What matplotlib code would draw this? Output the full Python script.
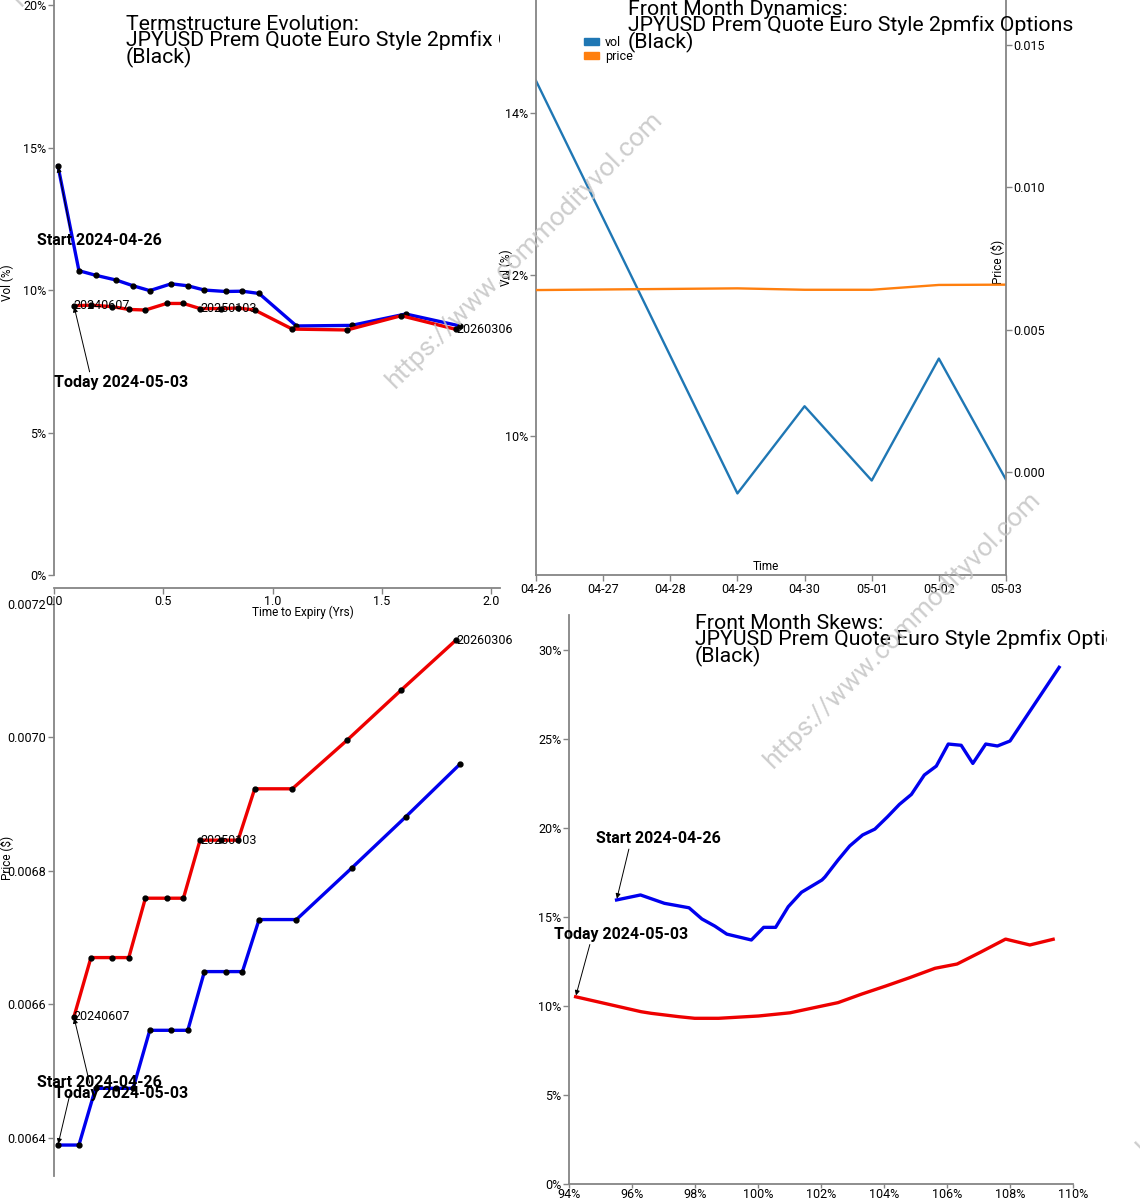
"""
Four panel vol dashboard: termstructure (vol + price), front month dynamics
and front month skews for JPYUSD options.
"""
import matplotlib
matplotlib.use("Agg")
import matplotlib.pyplot as plt
import matplotlib.dates as mdates
from matplotlib.patches import Patch
from matplotlib.ticker import FuncFormatter
from matplotlib.transforms import Bbox, TransformedBbox
import pandas as pd

plt.rcParams['font.family'] = ['Roboto', 'DejaVu Sans']

# ---- data ----------------------------------------------------------------
start_label = "Start 2024-04-26"
today_label = "Today 2024-05-03"
title_name = "JPYUSD Prem Quote Euro Style 2pmfix Options\n(Black)"

# termstructure, time to expiry in years
ts_start_t = [0.018, 0.114, 0.190, 0.285, 0.362, 0.438, 0.536, 0.612, 0.688,
              0.785, 0.862, 0.938, 1.109, 1.361, 1.609, 1.857]
ts_start_vol = [14.36, 10.68, 10.52, 10.35, 10.15, 9.98, 10.22, 10.15, 10.00,
                9.95, 9.96, 9.88, 8.74, 8.76, 9.16, 8.74]
ts_start_price = [0.006389, 0.006389, 0.006474, 0.006474, 0.006474, 0.006561,
                  0.006561, 0.006561, 0.006649, 0.006649, 0.006649, 0.006727,
                  0.006727, 0.006804, 0.006881, 0.006960]

ts_today_t = [0.091, 0.169, 0.265, 0.342, 0.418, 0.515, 0.592, 0.668, 0.766,
              0.842, 0.918, 1.090, 1.341, 1.588, 1.839]
ts_today_vol = [9.45, 9.47, 9.42, 9.32, 9.30, 9.53, 9.53, 9.35, 9.35, 9.37,
                9.30, 8.63, 8.60, 9.10, 8.62]
ts_today_price = [0.006581, 0.006670, 0.006670, 0.006670, 0.006759, 0.006759,
                  0.006759, 0.006846, 0.006846, 0.006846, 0.006923, 0.006923,
                  0.006996, 0.007071, 0.007146]

expiry_labels = ["20240607", "20250103", "20260306"]
expiry_index = [0, 7, 14]  # index into the today curve

# front month dynamics
fm_dates = ["2024-04-26", "2024-04-29", "2024-04-30", "2024-05-01",
            "2024-05-02", "2024-05-03"]
fm_vol = [14.40, 9.29, 10.37, 9.45, 10.96, 9.46]
fm_price = [0.00639, 0.00645, 0.00640, 0.00640, 0.00657, 0.00658]

# front month skews, strike in % of forward
sk_start_k = [95.51, 96.27, 97.03, 97.81, 98.22, 98.63, 99.01, 99.79, 100.18,
              100.56, 100.96, 101.38, 102.03, 102.13, 102.54, 102.91, 103.32,
              103.71, 104.11, 104.49, 104.87, 105.28, 105.66, 106.04, 106.45,
              106.82, 107.23, 107.60, 108.00, 109.56]
sk_start_vol = [15.96, 16.24, 15.77, 15.52, 14.89, 14.49, 14.04, 13.71, 14.42,
                14.42, 15.58, 16.39, 17.08, 17.26, 18.20, 18.99, 19.61, 19.94,
                20.63, 21.33, 21.89, 22.98, 23.48, 24.72, 24.65, 23.63, 24.72,
                24.61, 24.89, 29.03]
sk_today_k = [94.21, 96.29, 96.61, 97.49, 97.99, 98.75, 100.02, 101.02, 102.03,
              102.54, 103.29, 104.05, 104.81, 105.62, 106.32, 107.07, 107.86,
              108.63, 109.37]
sk_today_vol = [10.52, 9.68, 9.59, 9.40, 9.31, 9.31, 9.44, 9.62, 10.00, 10.19,
                10.67, 11.12, 11.59, 12.12, 12.36, 13.03, 13.76, 13.43, 13.75]

# ---- helpers ---------------------------------------------------------------
W, H = 1140, 1200
fig = plt.figure(figsize=(W / 100, H / 100), dpi=100)


def px_rect(x0, y0, x1, y1):
    """ pixel box (origin top left) -> [left, bottom, width, height] """
    return [x0 / W, 1 - y1 / H, (x1 - x0) / W, (y1 - y0) / H]


def style_axes(ax):
    """ grey open spines, short ticks, see-through background """
    ax.patch.set_visible(False)
    for s in ['top', 'right']:
        ax.spines[s].set_visible(False)
    for s in ax.spines.values():
        s.set_color('#858585')
        s.set_linewidth(1.3)
    ax.tick_params(colors='#858585', labelcolor='black', labelsize=9,
                   length=4, width=1, pad=1.5)


def pct(fmt):
    return FuncFormatter(lambda v, p: fmt.format(v) + "%")


def mark(ax, text, xy, off):
    """ bold date annotation with a thin arrow """
    rel = (0.27, 0) if off[1] > 0 else (0.27, 1)
    ax.annotate(text, xy=xy, xytext=off, textcoords='offset points',
                ha='center', va='center', fontsize=11.5, fontweight='bold',
                arrowprops=dict(arrowstyle='-|>', color='black', lw=0.7,
                                relpos=rel, shrinkA=0, shrinkB=1,
                                mutation_scale=7),
                annotation_clip=False, zorder=6)


def title(x, y, text, clip_x):
    t = fig.text(x / W, 1 - y / H, text, fontsize=15.3, ha='left', va='top',
                 linespacing=0.8)
    t.set_clip_box(TransformedBbox(Bbox([[0, 0], [clip_x / W, 1]]),
                                   fig.transFigure))
    t.set_clip_on(True)


def expiry_tags(ax, xs, ys):
    for lab, i in zip(expiry_labels, expiry_index):
        ax.text(xs[i], ys[i], lab, fontsize=9, ha='left', va='center',
                clip_on=False, zorder=5)


line_kw = dict(lw=2.4, marker='o', ms=3.5, mfc='black', mec='black')

# ---- termstructure price (bottom left) -----------------------------------
ax3 = fig.add_axes(px_rect(54, 597, 500, 1176))
style_axes(ax3)
ax3.plot(ts_start_t, ts_start_price, color='#0000ee', **line_kw)
ax3.plot(ts_today_t, ts_today_price, color='#ee0000', **line_kw)
ax3.set_xlim(0, 2.04)
ax3.set_ylim(0.0063426, 0.0072105)
ax3.set_yticks([0.0064, 0.0066, 0.0068, 0.0070, 0.0072])
ax3.yaxis.set_major_formatter(FuncFormatter(lambda v, p: f"{v:.4f}"))
ax3.spines['bottom'].set_visible(False)
ax3.set_xticks([])
ax3.set_ylabel("Price ($)", fontsize=8.5)
ax3.yaxis.set_label_coords(-0.092, 0.549)
expiry_tags(ax3, ts_today_t, ts_today_price)
mark(ax3, start_label, (ts_start_t[0], ts_start_price[0]), (30, 45))
mark(ax3, today_label, (ts_today_t[0], ts_today_price[0]), (34, -55))

# ---- termstructure vol (top left) ----------------------------------------
ax1 = fig.add_axes(px_rect(54, 0, 500, 575))
style_axes(ax1)
ax1.plot(ts_start_t, ts_start_vol, color='#0000ee', **line_kw)
ax1.plot(ts_today_t, ts_today_vol, color='#ee0000', **line_kw)
ax1.set_xlim(0, 2.04)
ax1.set_ylim(0, 20.18)
ax1.set_xticks([0, 0.5, 1.0, 1.5, 2.0])
ax1.set_yticks([0, 5, 10, 15, 20])
ax1.yaxis.set_major_formatter(pct("{:.0f}"))
ax1.spines['bottom'].set_position(('outward', 9))
ax1.set_xlabel("Time to Expiry (Yrs)", fontsize=8.5)
ax1.xaxis.set_label_coords(0.558, -0.053)
ax1.set_ylabel("Vol (%)", fontsize=8.5)
ax1.yaxis.set_label_coords(-0.09, 0.508)
expiry_tags(ax1, ts_today_t, ts_today_vol)
mark(ax1, start_label, (ts_start_t[0], ts_start_vol[0]), (30, -54))
mark(ax1, today_label, (ts_today_t[0], ts_today_vol[0]), (34, -55))
title(126, 14.5, "Termstructure Evolution:\n" + title_name, 500)

# ---- front month dynamics (top right) ------------------------------------
dates = pd.to_datetime(fm_dates)
ax2 = fig.add_axes(px_rect(536, 0, 1006, 575))
style_axes(ax2)
ax2b = ax2.twinx()
style_axes(ax2b)
ax2b.spines['right'].set_visible(True)
ax2b.spines['left'].set_visible(False)
ax2b.spines['bottom'].set_visible(False)
ax2.plot(dates, fm_vol, color='#1f77b4', lw=1.7)
ax2b.plot(dates, fm_price, color='#ff7f0e', lw=1.7)
ax2.set_xlim(dates[0], dates[-1])
ax2.set_ylim(8.28, 15.40)
ax2b.set_ylim(-0.00362, 0.01658)
ax2.set_yticks([10, 12, 14])
ax2.yaxis.set_major_formatter(pct("{:.0f}"))
ax2b.set_yticks([0, 0.005, 0.010, 0.015])
ax2b.yaxis.set_major_formatter(FuncFormatter(lambda v, p: f"{v:.3f}"))
ax2.xaxis.set_major_locator(mdates.DayLocator())
ax2.xaxis.set_major_formatter(mdates.DateFormatter('%m-%d'))
ax2.set_xlabel("Time", fontsize=8.5)
ax2.xaxis.set_label_coords(0.489, 0.026)
ax2.set_ylabel("Vol (%)", fontsize=8.5)
ax2.yaxis.set_label_coords(-0.049, 0.534)
ax2b.set_ylabel("Price ($)", fontsize=8.5)
ax2b.yaxis.set_label_coords(0.966, 0.544)
ax2b.legend([Patch(color='#1f77b4'), Patch(color='#ff7f0e')], ['vol', 'price'],
            loc='upper left', bbox_to_anchor=(584 / W, 1 - 36 / H),
            bbox_transform=fig.transFigure, frameon=False, fontsize=9,
            handlelength=1.2, handleheight=0.45, labelspacing=0.1,
            handletextpad=0.5, borderpad=0, borderaxespad=0)
title(628, 0, "Front Month Dynamics:\n" + title_name, W)

# ---- front month skews (bottom right) ------------------------------------
ax4 = fig.add_axes(px_rect(569, 615, 1073, 1184))
style_axes(ax4)
ax4.plot(sk_start_k, sk_start_vol, color='#0000ee', lw=2.4)
ax4.plot(sk_today_k, sk_today_vol, color='#ee0000', lw=2.4)
ax4.set_xlim(94, 110)
ax4.set_ylim(0, 31.97)
ax4.set_xticks(range(94, 111, 2))
ax4.set_yticks(range(0, 31, 5))
ax4.xaxis.set_major_formatter(pct("{:.0f}"))
ax4.yaxis.set_major_formatter(pct("{:.0f}"))
ax4.tick_params(axis='x', length=3, pad=0)
mark(ax4, start_label, (sk_start_k[0], sk_start_vol[0]), (30, 44))
mark(ax4, today_label, (sk_today_k[0], sk_today_vol[0]), (33, 45))
title(695, 614, "Front Month Skews:\n" + title_name, 1107)

# ---- watermark -----------------------------------------------------------
for cx, cy in [(150, -132), (524, 250), (902, 630), (1275, 1017)]:
    fig.text(cx / W, 1 - cy / H, "https://www.commodityvol.com", rotation=45,
             rotation_mode='anchor', ha='center', va='center', fontsize=19,
             color='#c4c4c4', alpha=0.85, zorder=20)

fig.savefig("out.png", dpi=100)
